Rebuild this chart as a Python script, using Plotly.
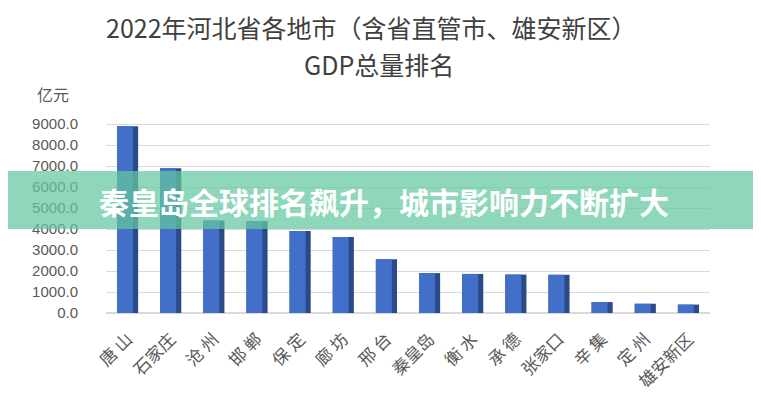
import plotly.graph_objects as go

cities = ["唐 山", "石家庄", "沧 州", "邯 郸", "保 定", "廊 坊", "邢 台",
          "秦皇岛", "衡 水", "承 德", "张家口", "辛 集", "定 州", "雄安新区"]
gdp = [8900, 6900, 4400, 4380, 3900, 3620, 2560, 1900, 1860, 1830, 1820, 520, 440, 400]
y_ticks = [0, 1000, 2000, 3000, 4000, 5000, 6000, 7000, 8000, 9000]
title1 = "2022年河北省各地市（含省直管市、雄安新区）"
title2 = "GDP总量排名"
unit = "亿元"
banner = "秦皇岛全球排名飙升，城市影响力不断扩大"

# page body has an 8px margin; work in screen pixels and shift
OFF = 8
W, H = 761 - OFF, 400 - OFF
plot_x0, plot_x1 = 106 - OFF, 709.6 - OFF
plot_y0, plot_y1 = 123 - OFF, 313 - OFF
L, R, T, B = plot_x0, W - plot_x1, plot_y0, H - plot_y1
pw, ph = W - L - R, H - T - B


def px(x):
    return (x - OFF - L) / pw


def py(y):
    return (H - B - (y - OFF)) / ph


CJK = "Noto Sans CJK SC"

fig = go.Figure()
# side face (darker)
fig.add_trace(go.Bar(x=cities, y=gdp, width=0.49, offset=-0.245,
                     marker=dict(color="#2b4a8a", line=dict(width=0)),
                     hoverinfo="skip", showlegend=False))
# front face
fig.add_trace(go.Bar(x=cities, y=gdp, width=0.37, offset=-0.245,
                     marker=dict(color="#4270c8", line=dict(width=0)),
                     showlegend=False))

fig.update_layout(
    width=W, height=H,
    margin=dict(l=L, r=R, t=T, b=B, autoexpand=False),
    barmode="overlay",
    plot_bgcolor="white", paper_bgcolor="white",
    font=dict(family=CJK, color="#595959"),
    xaxis=dict(tickangle=-45, tickfont=dict(size=17, color="#595959", family=CJK),
               showgrid=False, showline=False, ticks="", ticklabelstandoff=12,
               automargin=False),
    yaxis=dict(range=[0, 9050], tickvals=y_ticks, tickformat=".1f",
               tickfont=dict(size=15, color="#595959", family="Liberation Sans"),
               showgrid=True, gridcolor="#d9d9d9", gridwidth=1,
               zeroline=True, zerolinecolor="#d9d9d9", showline=False,
               ticklabelstandoff=27, automargin=False),
    shapes=[
        dict(type="rect", xref="paper", yref="paper",
             x0=px(0), x1=px(761), y0=py(229), y1=py(171),
             fillcolor="rgba(100,200,160,0.72)", line=dict(width=0), layer="above"),
    ],
    annotations=[
        dict(text=title1, xref="paper", yref="paper", x=px(371), y=py(27),
             showarrow=False, xanchor="center", yanchor="middle", borderpad=0,
             font=dict(size=25, color="#404040", family=CJK)),
        dict(text=title2, xref="paper", yref="paper", x=px(379), y=py(64),
             showarrow=False, xanchor="center", yanchor="middle", borderpad=0,
             font=dict(size=25, color="#404040", family=CJK)),
        dict(text=unit, xref="paper", yref="paper", x=px(35), y=py(94),
             showarrow=False, xanchor="left", yanchor="middle",
             font=dict(size=16, color="#595959", family=CJK)),
        dict(text="<b>" + banner + "</b>", xref="paper", yref="paper", x=px(97), y=py(201),
             showarrow=False, xanchor="left", yanchor="middle",
             font=dict(size=30, color="white", family=CJK)),
    ],
)

fig.write_html("out.html")
